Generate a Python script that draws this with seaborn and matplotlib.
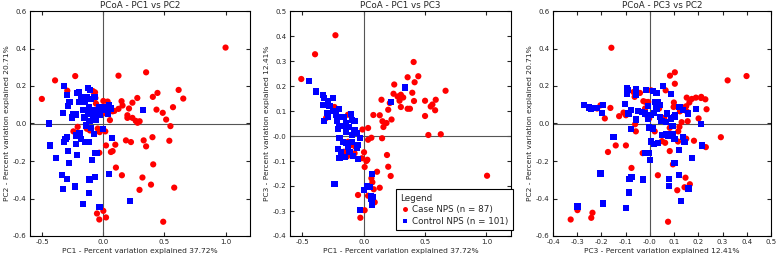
import numpy as np
import pandas as pd
import matplotlib
matplotlib.use('Agg')
import matplotlib.pyplot as plt
import seaborn as sns

sns.set_style('ticks')
plt.rcParams['font.family'] = ['DejaVu Sans']
plt.rcParams['axes.unicode_minus'] = True

RED = '#FF0000'
BLUE = '#0000FF'
CASE = 'Case NPS (n = 87)'
CONTROL = 'Control NPS (n = 101)'

# --- Panel 1: PC1 vs PC2 ---
p1_case_x = [1.0, 0.35, 0.124, -0.23, -0.395, -0.503, -0.295, -0.086, -0.068, -0.065,
             0.616, 0.654, 0.443, 0.405, 0.278, 0.238, 0.149, 0.157, 0.0, 0.035,
             0.435, 0.57, 0.486, 0.514, 0.549, 0.21, 0.124, 0.076, 0.197, 0.197,
             0.238, 0.265, 0.297, 0.28, 0.022, 0.0, -0.06, -0.21, -0.046, 0.09, 0.054,
             -0.245, -0.135, -0.11, 0.016, -0.03, 0.185, 0.226, 0.33, 0.402,
             0.35, 0.54, 0.022, 0.098, 0.076, 0.062, -0.033, 0.408, 0.103, 0.152,
             0.32, 0.39, 0.58, 0.296, -0.052, 0.0, 0.022, -0.033, 0.49]
p1_case_y = [0.405, 0.273, 0.255, 0.253, 0.23, 0.131, 0.175, 0.173, 0.166, 0.136,
             0.179, 0.133, 0.163, 0.142, 0.136, 0.111, 0.119, 0.096, 0.12, 0.117,
             0.074, 0.087, 0.057, 0.021, -0.014, 0.08, 0.078, 0.065, 0.044, 0.03,
             0.03, 0.014, 0.012, 0.004, 0.053, 0.07, 0.106, -0.018, -0.027, 0.067, 0.018,
             -0.042, -0.028, -0.037, -0.042, -0.046, -0.09, -0.099, -0.09, -0.073,
             -0.122, -0.092, -0.117, -0.113, -0.147, -0.152, -0.156, -0.218, -0.235, -0.276,
             -0.288, -0.326, -0.342, -0.354, -0.48, -0.466, -0.501, -0.512, -0.524]
p1_ctrl_x = [-0.32, -0.30, -0.127, -0.108, -0.2, -0.216, -0.276, -0.289, -0.195, -0.154,
             -0.119, -0.1, -0.073, -0.135, -0.33, -0.249, -0.222, -0.254, -0.154, -0.127,
             -0.086, -0.032, -0.005, 0.022, 0.049, 0.062, 0.035, -0.443, -0.114, -0.059,
             0.327, -0.18, -0.168, -0.086, -0.038,
             -0.14, -0.1, -0.005, -0.30, -0.31, -0.22, -0.195, -0.18, -0.078,
             0.07, -0.438, -0.322, -0.222, -0.146, -0.119, -0.29, -0.216, -0.07, -0.05,
             -0.39, -0.28, -0.095, -0.338, -0.30, -0.068, -0.114, 0.049, -0.233, -0.33,
             -0.119, 0.217, -0.168, -0.032]
p1_ctrl_y = [0.2, 0.154, 0.19, 0.18, 0.168, 0.163, 0.115, 0.092, 0.115, 0.115,
             0.088, 0.131, 0.142, 0.142, 0.057, 0.05, 0.048, 0.032, 0.032, 0.053,
             0.044, 0.048, 0.085, 0.071, 0.096, 0.08, 0.053, 0.0, 0.014, 0.018,
             0.074, 0.142, 0.071, 0.071, 0.085,
             -0.011, -0.025, -0.028, -0.073, -0.081, -0.064, -0.05, -0.081, -0.055,
             -0.076, -0.117, -0.099, -0.111, -0.099, -0.099, -0.147, -0.166, -0.156, -0.158,
             -0.184, -0.21, -0.195, -0.273, -0.297, -0.285, -0.299, -0.269, -0.336, -0.35,
             -0.37, -0.414, -0.428, -0.444]

# --- Panel 2: PC1 vs PC3 ---
p2_case_x = [-0.23, -0.396, -0.508, 0.407, 0.445, 0.358, 0.415, 0.249, 0.667, 0.396,
             0.303, 0.243, 0.276, 0.322, 0.292, 0.41, 0.5, 0.587, 0.145, 0.213,
             0.303, 0.358, 0.377, 0.56, 0.546, 0.582, 0.5, 0.2, 0.131, 0.079,
             0.227, 0.153, 0.186, 0.161, 0.036, -0.01, -0.238, -0.128, -0.306,
             0.527, 0.628, 0.15, 0.063, 0.036, 0.19, 0.003, 0.03, 0.008, 0.109,
             0.2, 0.22, 1.005, 0.063, 0.071, 0.082, 0.131, -0.046, 0.036, 0.063,
             0.09, 0.008, -0.027, -0.128, -0.1, -0.068, -0.161, -0.074, -0.134, -0.014, 0.022]
p2_case_y = [0.403, 0.327, 0.228, 0.296, 0.239, 0.235, 0.215, 0.206, 0.181, 0.173,
             0.165, 0.169, 0.158, 0.154, 0.141, 0.14, 0.141, 0.145, 0.145, 0.132,
             0.116, 0.109, 0.109, 0.126, 0.118, 0.103, 0.08, 0.105, 0.083, 0.084,
             0.066, 0.059, 0.052, 0.036, 0.032, 0.026, 0.116, 0.085, 0.072,
             0.004, 0.007, -0.009, -0.007, -0.015, -0.076, -0.065, -0.095, -0.124, -0.143,
             -0.123, -0.16, -0.159, -0.169, -0.185, -0.213, -0.207, -0.236, -0.239, -0.256,
             -0.265, -0.297, -0.327, -0.023, -0.036, -0.043, -0.063, -0.069, -0.081, -0.089, -0.1]
p2_ctrl_x = [-0.443, -0.388, -0.333, -0.32, -0.251, -0.292, -0.279, -0.333, -0.3, -0.202,
             -0.251, -0.224, -0.32, -0.292, -0.194, -0.164, -0.101, -0.093, -0.074, -0.197,
             -0.167, -0.142, 0.221, 0.336, -0.216, -0.12,
             -0.21, -0.197, -0.142, -0.074, -0.052, -0.096, -0.142, -0.128, -0.21, -0.183,
             -0.197, -0.15, -0.115, -0.087, -0.046, -0.057, -0.096, -0.238, 0.003, 0.027,
             0.049, 0.071, 0.057, 0.063, 0.068, 0.077, -0.027, -0.046, -0.033, -0.169]
p2_ctrl_y = [0.22, 0.178, 0.165, 0.152, 0.153, 0.138, 0.119, 0.125, 0.092, 0.108,
             0.099, 0.085, 0.059, 0.076, 0.076, 0.076, 0.089, 0.063, 0.059, 0.039,
             0.039, 0.05, 0.136, 0.194, 0.059, 0.036,
             0.028, -0.009, 0.017, 0.024, 0.011, 0.004, -0.029, -0.043, -0.052, -0.063,
             -0.089, -0.083, -0.063, -0.079, -0.093, -0.049, -0.023, -0.192, -0.217, -0.199,
             -0.203, -0.152, -0.239, -0.252, -0.276, -0.243, -0.297, -0.036, -0.009, -0.023]

# --- Panel 3: PC3 vs PC2 ---
p3_case_x = [-0.159, 0.321, 0.399, 0.103, 0.083, 0.103, 0.065, 0.005, -0.068, -0.041,
             -0.063, 0.19, 0.211, 0.152, 0.173, 0.212, 0.229, 0.099, 0.163, 0.15,
             0.139, 0.098, 0.038, 0.234, 0.124, 0.154, -0.027, -0.018, -0.007, -0.02,
             -0.163, -0.204, -0.218, -0.186, -0.127, -0.099, -0.01, -0.003, 0.059, 0.131,
             0.156, 0.201, 0.082, 0.122, -0.061, -0.109, 0.143,
             0.293, 0.231, 0.182, 0.117, 0.116, 0.15, 0.05, 0.063, 0.02, -0.058,
             -0.141, -0.099, -0.173, -0.03, 0.082, -0.076, 0.033, 0.095, 0.147, 0.165,
             0.143, 0.113, -0.237, -0.242, -0.299, -0.327, 0.075]
p3_case_y = [0.404, 0.23, 0.253, 0.273, 0.255, 0.212, 0.177, 0.177, 0.168, 0.163,
             0.142, 0.138, 0.136, 0.138, 0.131, 0.142, 0.129, 0.112, 0.112, 0.092,
             0.085, 0.088, 0.08, 0.076, 0.065, 0.062, 0.119, 0.115, 0.115, 0.08,
             0.083, 0.097, 0.08, 0.027, 0.039, 0.044, 0.039, 0.027, 0.03, 0.007,
             0.012, 0.027, -0.023, -0.018, -0.004, 0.058, 0.074,
             -0.073, -0.126, -0.092, -0.042, -0.096, -0.081, -0.094, -0.103, -0.042, -0.042,
             -0.117, -0.117, -0.152, -0.158, -0.147, -0.237, -0.276, -0.218, -0.289, -0.324,
             -0.34, -0.356, -0.476, -0.503, -0.462, -0.512, -0.524]
p3_ctrl_x = [-0.273, -0.252, -0.242, -0.22, -0.195, -0.197, -0.095, -0.091, -0.095, -0.057,
             -0.057, -0.102, -0.078, -0.088, -0.048, -0.034, -0.02, -0.057, -0.016, 0.014,
             0.027, 0.054, 0.088, -0.007, 0.02, 0.034, 0.041, 0.027, 0.005, -0.007,
             0.018, 0.041, 0.071, 0.065, 0.088, 0.102, 0.122, 0.136, 0.105, 0.19,
             0.156, 0.211, 0.048, -0.078, -0.003, 0.014, 0.093,
             -0.15, 0.05, 0.068, 0.093, 0.102, 0.136, 0.143, 0.215, 0.005, 0.016,
             0.034, -0.02, -0.003, 0.0, 0.075, 0.12, 0.173, 0.102, 0.12, 0.079,
             0.079, 0.159, 0.129, -0.204, -0.076, -0.084, -0.03, -0.087, -0.193, -0.097, -0.299]
p3_ctrl_y = [0.097, 0.085, 0.08, 0.083, 0.097, 0.058, 0.191, 0.177, 0.159, 0.15,
             0.186, 0.106, 0.074, 0.053, 0.065, 0.062, 0.053, 0.021, 0.177, 0.172,
             0.163, 0.202, 0.156, 0.092, 0.115, 0.115, 0.097, 0.08, 0.044, 0.023,
             0.057, 0.035, 0.053, 0.009, 0.027, 0.035, 0.088, 0.071, 0.044, 0.076,
             0.053, -0.004, 0.014, -0.03, -0.021, -0.027, -0.014,
             -0.073, -0.06, -0.055, -0.055, -0.081, -0.073, -0.099, -0.117, -0.096, -0.108,
             -0.103, -0.156, -0.156, -0.193, -0.064, -0.143, -0.182, -0.209, -0.273, -0.297,
             -0.335, -0.347, -0.414, -0.267, -0.285, -0.294, -0.299, -0.368, -0.427, -0.45, -0.443]

pc1_label = 'PC1 - Percent variation explained 37.72%'
pc2_label = 'PC2 - Percent variation explained 20.71%'
pc3_label = 'PC3 - Percent variation explained 12.41%'

panels = [
    dict(title='PCoA - PC1 vs PC2', cx=p1_case_x, cy=p1_case_y, bx=p1_ctrl_x, by=p1_ctrl_y,
         xlabel=pc1_label, ylabel=pc2_label, xlim=(-0.6, 1.2), ylim=(-0.6, 0.6),
         xticks=[-0.5, 0.0, 0.5, 1.0], yticks=np.arange(-0.6, 0.61, 0.2),
         pos=[30 / 778, 22 / 258, 220 / 778, 225 / 258], legend=False),
    dict(title='PCoA - PC1 vs PC3', cx=p2_case_x, cy=p2_case_y, bx=p2_ctrl_x, by=p2_ctrl_y,
         xlabel=pc1_label, ylabel=pc3_label, xlim=(-0.6, 1.2), ylim=(-0.4, 0.5),
         xticks=[-0.5, 0.0, 0.5, 1.0], yticks=np.arange(-0.4, 0.51, 0.1),
         pos=[290 / 778, 22 / 258, 221 / 778, 225 / 258], legend=True),
    dict(title='PCoA - PC3 vs PC2', cx=p3_case_x, cy=p3_case_y, bx=p3_ctrl_x, by=p3_ctrl_y,
         xlabel=pc3_label, ylabel=pc2_label, xlim=(-0.4, 0.5), ylim=(-0.6, 0.6),
         xticks=np.arange(-0.4, 0.51, 0.1), yticks=np.arange(-0.6, 0.61, 0.2),
         pos=[553 / 778, 22 / 258, 218 / 778, 225 / 258], legend=False),
]

fig = plt.figure(figsize=(7.78, 2.58), dpi=100)

for p in panels:
    ax = fig.add_axes(p['pos'])
    df = pd.concat([
        pd.DataFrame({'x': p['cx'], 'y': p['cy'], 'group': CASE}),
        pd.DataFrame({'x': p['bx'], 'y': p['by'], 'group': CONTROL}),
    ], ignore_index=True)
    ax.axhline(0, color='#555555', lw=0.8, zorder=1)
    ax.axvline(0, color='#555555', lw=0.8, zorder=1)
    sns.scatterplot(data=df, x='x', y='y', hue='group', style='group',
                    palette={CASE: RED, CONTROL: BLUE},
                    markers={CASE: 'o', CONTROL: 's'},
                    s=20, linewidth=0, edgecolor='none', zorder=3,
                    legend=p['legend'], ax=ax)
    ax.set_xlim(*p['xlim'])
    ax.set_ylim(*p['ylim'])
    ax.set_xticks(p['xticks'])
    ax.set_yticks(p['yticks'])
    ax.xaxis.set_major_formatter(matplotlib.ticker.FormatStrFormatter('%.1f'))
    ax.yaxis.set_major_formatter(matplotlib.ticker.FormatStrFormatter('%.1f'))
    ax.tick_params(direction='in', top=True, right=True, length=3, width=0.8,
                   labelsize=5, pad=2.5)
    for sp in ax.spines.values():
        sp.set_visible(True)
        sp.set_linewidth(0.8)
        sp.set_color('black')
    ax.set_title(p['title'], fontsize=6.3, pad=2)
    ax.set_xlabel(p['xlabel'], fontsize=5.4, labelpad=2)
    ax.set_ylabel(p['ylabel'], fontsize=5.4, labelpad=2)
    if p['legend']:
        leg = ax.legend(title='Legend', loc='lower right', bbox_to_anchor=(1.01, 0.025),
                        fontsize=6.3, title_fontsize=6.3, frameon=True, fancybox=False,
                        edgecolor='black', framealpha=1, borderaxespad=0,
                        handletextpad=0.4, markerscale=0.8, alignment='left',
                        borderpad=0.5, labelspacing=0.3, handlelength=1.0)
        leg.get_frame().set_linewidth(0.8)

fig.savefig('out.png', dpi=100)
